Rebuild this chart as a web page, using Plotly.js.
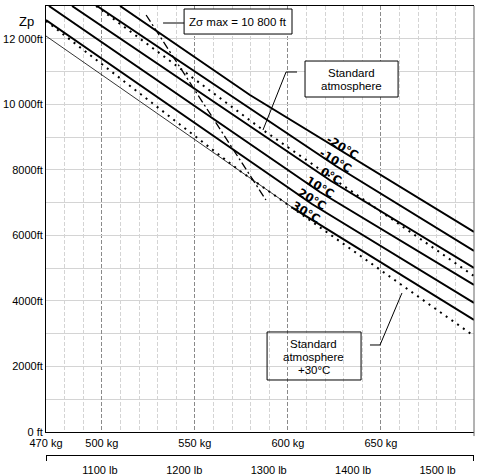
<!DOCTYPE html>
<html><head><meta charset="utf-8">
<script src="https://cdn.plot.ly/plotly-3.0.1.min.js"></script>
<style>html,body{margin:0;padding:0;background:#fff}#chart{width:485px;height:475px}</style>
</head><body><div id="chart"></div>
<script>
// ---- axis ticks ----
const kgTicks = [470, 500, 550, 600, 650, 700];
const kgTickText = ['470 kg', '500 kg', '550 kg', '600 kg', '650 kg', '700 kg\u00a0\u00a0'];
const lbTicks = [1100, 1200, 1300, 1400, 1500];
const lbTickText = ['1100 lb', '1200 lb', '1300 lb', '1400 lb', '1500 lb'];
const zpTicks = [0, 2000, 4000, 6000, 8000, 10000, 12000];
const zpTickText = ['0 ft', '2000ft', '4000ft', '6000ft', '8000ft', '10 000ft', '12 000ft'];

// ---- temperature curves (weight kg, Zp ft) ----
const tempLabels = ['-20°C', '-10°C', '0°C', '10°C', '20°C', '30°C'];
const wM20 = [509.8, 579.6, 700];   const zM20 = [13000, 10284, 6103];
const wM10 = [497.4, 625.8, 700];   const zM10 = [13000, 8117, 5523];
const w0   = [484.0, 623.2, 700];   const z0   = [13000, 7660, 5005];
const w10  = [471.6, 617.2, 700];   const z10  = [13000, 7324, 4486];
const w20  = [470, 612.9, 700];     const z20  = [12573, 6958, 3937];
const w30  = [470, 603, 700];       const z30  = [12084, 6826, 3418];
// standard atmosphere and standard +30°C
const wIsa   = [496.9, 586.6, 700]; const zIsa   = [13000, 9216, 4760];
const wIsa30 = [470, 574.3, 700];   const zIsa30 = [12542, 7965, 2930];
// Z sigma max line
const wZs = [523.8, 588.2];         const zZs = [12725, 7080];
// label positions
const labelW = [629.1, 625.8, 623.2, 617.2, 612.9, 609.7];
const labelZ = [8697, 8270, 7812, 7476, 7110, 6714];

const traces = [];
function addLine(w, z, width, dash) {
  traces.push({type: 'scatter', mode: 'lines', x: w, y: z, xaxis: 'x', yaxis: 'y',
    line: {color: '#000', width: width, dash: dash || 'solid'}, hoverinfo: 'skip', showlegend: false});
}
addLine(wM20, zM20, 2);
addLine(wM10, zM10, 2);
addLine(w0, z0, 2);
addLine(w10, z10, 2);
addLine(w20, z20, 2);
addLine(w30.slice(0, 2), z30.slice(0, 2), 0.8);
addLine(w30.slice(1), z30.slice(1), 2);
addLine(wIsa, zIsa, 2, '2px,5px');
addLine(wIsa30, zIsa30, 2, '2px,5px');
addLine(wZs, zZs, 1.3, '8px,3px,2px,3px');
// dummy trace for lb axis
traces.push({type: 'scatter', mode: 'lines', x: [lbTicks[0]], y: [null], xaxis: 'x2', yaxis: 'y', hoverinfo: 'skip', showlegend: false});

const minorKg = [];
for (let v = 480; v < 700; v += 10) if (kgTicks.indexOf(v) < 0) minorKg.push(v);
const minorZp = [];
for (let v = 1000; v < 13000; v += 2000) minorZp.push(v);

const F = '"Liberation Sans", Arial, Helvetica, sans-serif';
const annotations = [];
tempLabels.forEach((t, i) => annotations.push({x: labelW[i], y: labelZ[i], xref: 'x', yref: 'y', text: '<b>' + t + '</b>',
  showarrow: false, textangle: 31, font: {family: '"DejaVu Sans", Verdana, sans-serif', size: 11.5, color: '#000'}}));
function txt(x, y, t) { annotations.push({x: x, y: y, xref: 'x', yref: 'y', text: t, showarrow: false, font: {family: F, size: 11.5, color: '#000'}}); }
txt(573.2, 12512, 'Zσ max = 10 800 ft');
txt(634.0, 10955, 'Standard');
txt(634.0, 10559, 'atmosphere');
txt(614.0, 2685, 'Standard');
txt(614.0, 2288, 'atmosphere');
txt(614.0, 1892, '+30°C');
annotations.push({x: -0.068, y: 0.987, xref: 'paper', yref: 'paper', text: 'Zp', showarrow: false, font: {family: F, size: 13, color: '#000'}});

const shapes = [
  {type: 'rect', xref: 'x', yref: 'y', x0: 544.2, x1: 602.2, y0: 12145, y1: 12908, line: {color: '#000', width: 1}, fillcolor: '#fff', layer: 'above'},
  {type: 'rect', xref: 'x', yref: 'y', x0: 609.2, x1: 659.2, y0: 10223, y1: 11321, line: {color: '#000', width: 1}, fillcolor: '#fff', layer: 'above'},
  {type: 'rect', xref: 'x', yref: 'y', x0: 588.8, x1: 639.3, y0: 1587, y1: 3052, line: {color: '#000', width: 1}, fillcolor: 'rgba(255,255,255,0)', layer: 'above'},
  {type: 'path', xref: 'x', yref: 'y', path: 'M 532.9 12481 L 544.2 12481', line: {color: '#000', width: 1}, layer: 'above'},
  {type: 'path', xref: 'x', yref: 'y', path: 'M 604.9 10986 L 599.0 10986 L 586.6 9216', line: {color: '#000', width: 1}, layer: 'above'},
  {type: 'path', xref: 'x', yref: 'y', path: 'M 644.1 2655 L 649.5 2655 L 661.3 4242', line: {color: '#000', width: 1}, layer: 'above'},
  {type: 'line', xref: 'paper', yref: 'paper', x0: 1, x1: 1, y0: 0.083, y1: 1, line: {color: '#666', width: 1}, layer: 'above'}
];

const layout = {
  width: 485, height: 475, margin: {l: 46, r: 11, t: 6, b: 0, pad: 0},
  paper_bgcolor: '#fff', plot_bgcolor: '#fff', showlegend: false,
  font: {family: F, size: 11, color: '#000'},
  xaxis: {range: [470, 700], tickmode: 'array', tickvals: kgTicks, ticktext: kgTickText,
    showgrid: true, gridcolor: '#8a8a8a', griddash: '4px,2px', gridwidth: 1,
    minor: {tickmode: 'array', tickvals: minorKg, showgrid: true, gridcolor: '#d4d4d4', gridwidth: 1},
    showline: true, linecolor: '#000', linewidth: 1, mirror: true, ticks: '', zeroline: false,
    anchor: 'y', fixedrange: true, ticklabelstandoff: 1},
  xaxis2: {overlaying: 'x', anchor: 'free', position: 0.0426, side: 'bottom', range: [1036.17, 1543.24],
    tickmode: 'array', tickvals: lbTicks, ticktext: lbTickText, showgrid: false, showline: true,
    linecolor: '#000', linewidth: 1, ticks: '', zeroline: false, ticklabelstandoff: 5,
    minor: {tickmode: 'array', tickvals: [1036.6, 1542.8], ticks: 'outside', ticklen: 5, tickcolor: '#000', showgrid: false}},
  yaxis: {domain: [0.0917, 1], range: [0, 13000], tickmode: 'array', tickvals: zpTicks, ticktext: zpTickText,
    showgrid: true, gridcolor: '#d4d4d4', gridwidth: 1,
    minor: {tickmode: 'array', tickvals: minorZp, showgrid: true, gridcolor: '#d4d4d4', gridwidth: 1},
    showline: true, linecolor: '#000', linewidth: 1, mirror: false, zeroline: false, ticks: '', fixedrange: true},
  annotations: annotations, shapes: shapes
};
Plotly.newPlot('chart', traces, layout, {staticPlot: true, displayModeBar: false});
</script></body></html>
